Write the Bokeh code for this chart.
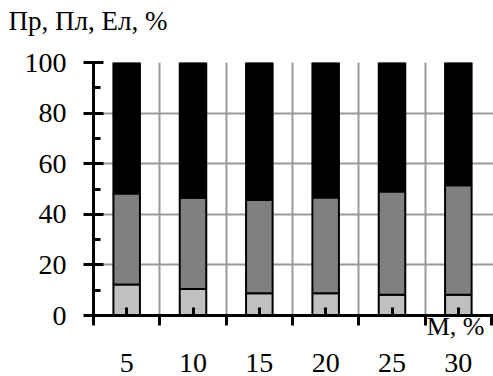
from bokeh.plotting import figure
from bokeh.models import FixedTicker, Range1d, ColumnDataSource, Title, LinearAxis
from bokeh.embed import file_html
from bokeh.resources import INLINE

categories = ["5", "10", "15", "20", "25", "30"]
pr = [12.3, 10.5, 8.8, 8.8, 8.2, 8.2]        # light grey (bottom)
pl = [35.9, 36.0, 36.9, 37.8, 40.8, 43.3]    # dark grey (middle)
el = [100 - a - b for a, b in zip(pr, pl)]   # black (top, remainder)
y_ticks = [0, 20, 40, 60, 80, 100]

FONT = "Liberation Serif"

xs = [i + 0.5 for i in range(len(categories))]
bounds = list(range(len(categories) + 1))
src = ColumnDataSource(dict(x=xs, pr=pr, pl=pl, el=el))

p = figure(width=493, height=376, output_backend="svg", toolbar_location=None,
           x_range=Range1d(0, 6.03), y_range=Range1d(0, 100),
           title="Пр, Пл, Ел, %\n\u00a0",
           min_border_left=93, min_border_right=0, min_border_top=62, min_border_bottom=61)
p.outline_line_color = None
p.background_fill_color = "white"

p.title.text_font = FONT
p.title.text_font_size = "27px"
p.title.text_font_style = "normal"
p.title.text_color = "black"
p.title.text_line_height = 1.0
p.title.align = "left"
p.title.vertical_align = "top"
p.title.offset = -85
p.title.standoff = -10

p.vbar_stack(["pr", "pl", "el"], x="x", width=0.4, source=src,
             fill_color=["#c0c0c0", "#808080", "#000000"],
             line_color="black", line_width=2)

p.xgrid.ticker = FixedTicker(ticks=bounds[1:-1])
p.ygrid.ticker = FixedTicker(ticks=y_ticks)
for g in (p.xgrid, p.ygrid):
    g.grid_line_color = "#999999"
    g.grid_line_width = 2

xa = p.xaxis[0]
xa.ticker = FixedTicker(ticks=xs, minor_ticks=bounds)
xa.major_label_overrides = {x: "" for x in xs}
xa.major_label_text_font_size = "1px"
xa.major_label_standoff = 0
xa.axis_line_width = 3
xa.axis_line_color = "black"
xa.major_tick_in = 8
xa.major_tick_out = 0
xa.major_tick_line_width = 3
xa.minor_tick_in = 0
xa.minor_tick_out = 10
xa.minor_tick_line_width = 3

xt = Title(text="М, %", align="right", vertical_align="top", text_font=FONT,
           text_font_size="26px", text_font_style="normal", text_color="black",
           offset=9, standoff=-28)
p.add_layout(xt, "below")

xl = LinearAxis(ticker=FixedTicker(ticks=xs, minor_ticks=[]))
xl.major_label_overrides = {x: c for x, c in zip(xs, categories)}
xl.axis_line_color = None
xl.major_tick_line_color = None
xl.minor_tick_line_color = None
xl.major_tick_in = 0
xl.major_tick_out = 0
xl.major_label_text_font = FONT
xl.major_label_text_font_size = "28px"
xl.major_label_text_color = "black"
xl.major_label_standoff = 25
p.add_layout(xl, "below")

ya = p.yaxis[0]
ya.ticker = FixedTicker(ticks=y_ticks, minor_ticks=[10, 30, 50, 70, 90])
ya.axis_line_width = 3
ya.axis_line_color = "black"
ya.major_tick_in = 10
ya.major_tick_out = 10
ya.major_tick_line_width = 3
ya.minor_tick_in = 7
ya.minor_tick_out = 0
ya.minor_tick_line_width = 3
ya.major_label_text_font = FONT
ya.major_label_text_font_size = "28px"
ya.major_label_text_color = "black"
ya.major_label_standoff = 17

open("out.html", "w").write(file_html(p, INLINE))
